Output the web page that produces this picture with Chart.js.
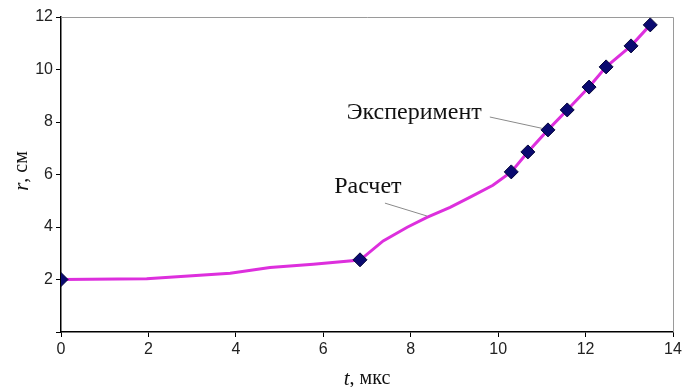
<!DOCTYPE html>
<html>
<head>
<meta charset="utf-8">
<script src="https://cdn.jsdelivr.net/npm/chart.js@4/dist/chart.umd.min.js"></script>
<style>
  html, body { margin: 0; padding: 0; background: #fff; }
  #wrap { width: 685px; height: 387px; }
</style>
</head>
<body>
<div id="wrap"><canvas id="myChart"></canvas></div>
<script>
// calculated curve (Расчет)
const calcT = [0, 1.96, 3.87, 4.78, 5.77, 6.84, 7.37, 7.92, 8.37, 8.90, 9.36, 9.88, 10.3, 10.68, 11.14, 11.58, 12.08, 12.47, 13.04, 13.48];
const calcR = [2.0, 2.03, 2.24, 2.46, 2.58, 2.74, 3.47, 3.99, 4.37, 4.75, 5.14, 5.59, 6.1, 6.86, 7.7, 8.46, 9.33, 10.1, 10.9, 11.7];

// experiment points (Эксперимент)
const expT = [0, 6.84, 10.3, 10.68, 11.14, 11.58, 12.08, 12.47, 13.04, 13.48];
const expR = [2.0, 2.75, 6.1, 6.86, 7.7, 8.46, 9.33, 10.1, 10.9, 11.7];

const xTicks = [0, 2, 4, 6, 8, 10, 12, 14];
const yTicks = [0, 2, 4, 6, 8, 10, 12];

const serif = '"Liberation Serif", "DejaVu Serif", serif';

// callouts: text at (t, r), leader from (t1, r1) to (t2, r2)
const callouts = [
  { text: 'Эксперимент', t: 8.08, r: 8.34, t1: 9.81, r1: 8.19, t2: 11.0, r2: 7.76 },
  { text: 'Расчет', t: 7.02, r: 5.52, t1: 7.41, r1: 4.91, t2: 8.37, r2: 4.42 }
];

const toPoints = (xs, ys) => xs.map((x, i) => ({ x: x, y: ys[i] }));

const frame = {
  id: 'frame',
  beforeDatasetsDraw(chart) {
    const { ctx, chartArea: a } = chart;
    ctx.save();
    ctx.strokeStyle = '#9a9a9a';
    ctx.lineWidth = 1;
    ctx.beginPath();
    ctx.moveTo(a.left, a.top + 0.5);
    ctx.lineTo(a.right + 0.5, a.top + 0.5);
    ctx.lineTo(a.right + 0.5, a.bottom);
    ctx.stroke();
    ctx.restore();
  },
  afterDraw(chart) {
    const { ctx } = chart;
    const xs = chart.scales.x, ys = chart.scales.y;
    ctx.save();
    // callouts
    callouts.forEach(c => {
      ctx.strokeStyle = '#8a8a8a';
      ctx.lineWidth = 1;
      ctx.beginPath();
      ctx.moveTo(xs.getPixelForValue(c.t1), ys.getPixelForValue(c.r1));
      ctx.lineTo(xs.getPixelForValue(c.t2), ys.getPixelForValue(c.r2));
      ctx.stroke();
      ctx.fillStyle = '#111';
      ctx.font = '24px ' + serif;
      ctx.textAlign = 'center';
      ctx.textBaseline = 'middle';
      ctx.fillText(c.text, xs.getPixelForValue(c.t), ys.getPixelForValue(c.r));
    });

    // axis titles with italic variable
    ctx.fillStyle = '#111';
    ctx.textBaseline = 'middle';
    ctx.textAlign = 'left';
    const it = 'italic 21px ' + serif, rg = '20px ' + serif;

    // x title
    ctx.font = it;
    const w1 = ctx.measureText('t').width;
    ctx.font = rg;
    const w2 = ctx.measureText(', мкс').width;
    let x0 = 367 - (w1 + w2) / 2;
    ctx.font = it; ctx.fillText('t', x0, 379);
    ctx.font = rg; ctx.fillText(', мкс', x0 + w1, 379);

    // y title
    ctx.translate(22, 171);
    ctx.rotate(-Math.PI / 2);
    ctx.font = it;
    const v1 = ctx.measureText('r').width;
    ctx.font = rg;
    const v2 = ctx.measureText(', см').width;
    x0 = -(v1 + v2) / 2;
    ctx.font = it; ctx.fillText('r', x0, 0);
    ctx.font = rg; ctx.fillText(', см', x0 + v1, 0);
    ctx.restore();
  }
};

new Chart('myChart', {
  type: 'scatter',
  data: {
    datasets: [
      {
        label: 'Эксперимент',
        data: toPoints(expT, expR),
        pointStyle: 'rectRot',
        pointRadius: 7,
        backgroundColor: '#0a0a70',
        borderColor: '#05053a',
        borderWidth: 1,
        showLine: false
      },
      {
        label: 'Расчет',
        data: toPoints(calcT, calcR),
        showLine: true,
        borderColor: '#dd2fdd',
        borderWidth: 3,
        pointRadius: 0,
        tension: 0
      }
    ]
  },
  plugins: [frame],
  options: {
    responsive: true,
    maintainAspectRatio: false,
    animation: false,
    layout: { padding: { top: 17, right: 12, bottom: 0, left: 0 } },
    plugins: {
      legend: { display: false },
      tooltip: { enabled: false }
    },
    scales: {
      x: {
        type: 'linear',
        min: 0,
        max: 14,
        afterBuildTicks: s => { s.ticks = xTicks.map(v => ({ value: v })); },
        afterFit: s => { s.height = 55; },
        grid: { drawOnChartArea: false, drawTicks: true, tickLength: 5, color: '#000' },
        border: { color: '#000', width: 1.5 },
        ticks: { color: '#222', padding: 3, font: { family: '"Liberation Sans", Arial, sans-serif', size: 16 }, maxRotation: 0 }
      },
      y: {
        type: 'linear',
        min: 0,
        max: 12,
        afterBuildTicks: s => { s.ticks = yTicks.map(v => ({ value: v })); },
        afterFit: s => { s.width = 61; },
        grid: { drawOnChartArea: false, drawTicks: true, tickLength: 5, color: '#000' },
        border: { color: '#000', width: 1.5 },
        ticks: {
          color: '#222',
          padding: 3,
          font: { family: '"Liberation Sans", Arial, sans-serif', size: 16 },
          callback: v => (v === 0 ? '' : v)
        }
      }
    }
  }
});
</script>
</body>
</html>
